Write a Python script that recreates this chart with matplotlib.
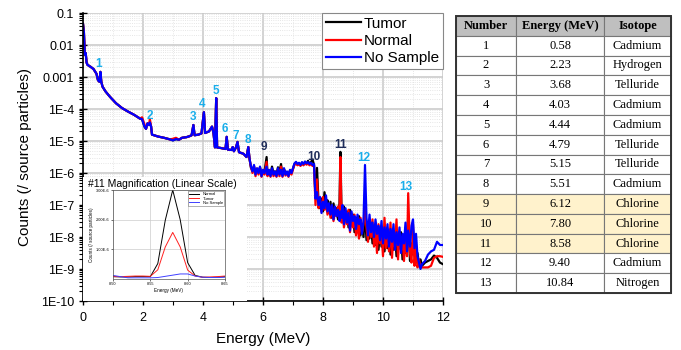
import numpy as np
import matplotlib.pyplot as plt
from matplotlib.ticker import MultipleLocator, LogLocator, FixedLocator, NullFormatter
from matplotlib.patches import Rectangle

plt.rcParams['font.family'] = ['Liberation Sans', 'DejaVu Sans']

# ---- spectrum data (log10 of counts / source particle) ----
# low energy part: the three spectra overlap almost exactly
energy_low = [0.00, 0.03, 0.06, 0.09, 0.12, 0.15, 0.25, 0.35, 0.45, 0.50,
              0.55, 0.58, 0.61, 0.65, 0.75, 0.90, 1.10, 1.30, 1.50, 1.70,
              1.90, 1.97, 2.05, 2.10, 2.15, 2.20, 2.23, 2.27, 2.30, 2.50,
              2.70, 2.90, 3.00, 3.10, 3.20, 3.30, 3.45, 3.55, 3.62, 3.68,
              3.72, 3.85, 3.95, 4.03, 4.07, 4.20, 4.30, 4.35, 4.40, 4.44,
              4.47, 4.60, 4.75, 4.79, 4.83, 4.95, 4.99, 5.03, 5.10, 5.15,
              5.20, 5.35, 5.45, 5.51, 5.55]
log_low = [-1.34, -1.60, -2.30, -2.25, -2.55, -2.62, -2.68, -2.75, -2.90, -3.10,
           -3.15, -2.84, -3.15, -3.30, -3.45, -3.62, -3.82, -3.97, -4.08, -4.18,
           -4.30, -4.32, -4.55, -4.62, -4.45, -4.50, -4.42, -4.55, -4.80, -4.86,
           -4.90, -4.95, -4.98, -4.94, -4.96, -4.90, -4.88, -4.85, -4.82, -4.50,
           -4.82, -4.80, -4.76, -4.10, -4.75, -4.70, -4.55, -4.75, -5.20, -3.66,
           -5.20, -5.22, -5.25, -4.87, -5.27, -5.28, -5.19, -5.32, -5.20, -5.03,
           -5.35, -5.40, -5.50, -5.19, -5.55]
# where the normal-tissue curve sits a little above the others
normal_low_diff = {1.97: -4.26, 2.05: -4.48, 2.23: -4.32, 3.00: -4.93, 3.10: -4.90}

energy_mid = [5.60, 5.65, 5.70, 5.75, 5.80, 5.85, 5.90, 5.95, 6.00, 6.05,
              6.12, 6.15, 6.20, 6.25, 6.30, 6.35, 6.40, 6.45, 6.50, 6.55,
              6.60, 6.65, 6.70, 6.75, 6.80, 6.85, 6.90, 6.95, 7.00, 7.05,
              7.10, 7.15, 7.20, 7.25, 7.30, 7.35, 7.40, 7.45, 7.50, 7.55,
              7.60, 7.65, 7.70]
tumor_mid = [-5.85, -5.90, -5.80, -6.00, -5.88, -5.95, -5.82, -6.05, -5.92, -5.95,
             -5.50, -6.00, -5.92, -6.05, -5.80, -6.00, -5.95, -6.05, -5.82, -6.00,
             -5.72, -6.05, -5.88, -6.00, -5.98, -6.05, -5.92, -6.00, -5.86, -5.72,
             -5.68, -5.74, -5.70, -5.76, -5.68, -5.74, -5.66, -5.72, -5.62, -5.72,
             -5.66, -5.58, -5.74]
normal_mid = [-5.82, -6.00, -5.78, -6.10, -5.86, -6.05, -5.84, -6.12, -5.94, -6.05,
              -5.65, -6.10, -5.94, -6.12, -5.88, -6.10, -5.98, -6.12, -5.88, -6.10,
              -5.80, -6.12, -5.90, -6.08, -6.00, -6.12, -5.94, -6.05, -5.88, -5.74,
              -5.70, -5.76, -5.72, -5.78, -5.70, -5.76, -5.68, -5.74, -5.70, -5.76,
              -5.72, -5.78, -5.76]
nosample_mid = [-5.80, -5.95, -5.75, -6.05, -5.85, -6.00, -5.80, -6.10, -5.90, -6.00,
                -5.80, -6.05, -5.90, -6.10, -5.85, -6.05, -5.95, -6.10, -5.85, -6.05,
                -5.90, -6.10, -5.85, -6.05, -5.95, -6.10, -5.90, -6.00, -5.85, -5.70,
                -5.65, -5.72, -5.68, -5.75, -5.66, -5.72, -5.64, -5.70, -5.66, -5.72,
                -5.68, -5.75, -5.72]

energy_tail = [7.75, 7.80, 7.85, 7.90, 7.95, 8.00, 8.05, 8.10, 8.15, 8.20,
               8.25, 8.30, 8.35, 8.40, 8.45, 8.50, 8.55, 8.58, 8.62, 8.65,
               8.70, 8.75, 8.80, 8.85, 8.90, 8.95, 9.00, 9.05, 9.10, 9.15,
               9.20, 9.25, 9.30, 9.35, 9.40, 9.45, 9.50, 9.55, 9.60, 9.65,
               9.70, 9.75, 9.80, 9.85, 9.90, 9.95, 10.00, 10.05, 10.10, 10.15,
               10.20, 10.25, 10.30, 10.35, 10.40, 10.45, 10.50, 10.55, 10.60, 10.65,
               10.70, 10.75, 10.80, 10.84, 10.90, 10.95, 11.00, 11.05, 11.10, 11.15,
               11.20, 11.25, 11.30, 11.40, 11.50, 11.60, 11.70, 11.80, 11.90, 12.00]
tumor_tail = [-6.70, -5.84, -6.90, -7.10, -6.80, -7.20, -6.60, -7.00, -6.85, -7.25,
              -6.90, -7.40, -6.95, -7.30, -7.10, -7.45, -6.95, -5.34, -7.30, -7.50,
              -7.05, -7.45, -7.20, -7.70, -7.15, -7.60, -7.30, -7.85, -7.40, -7.65,
              -7.35, -7.95, -7.60, -8.00, -7.20, -8.10, -7.60, -8.05, -7.55, -8.20,
              -7.70, -8.25, -7.80, -8.40, -7.70, -8.30, -7.85, -8.45, -7.95, -8.35,
              -7.80, -8.55, -8.05, -8.40, -7.90, -8.60, -8.00, -8.35, -7.85, -8.70,
              -7.95, -8.50, -8.05, -7.40, -8.75, -8.20, -8.55, -8.00, -8.80, -8.50,
              -8.85, -8.70, -8.90, -8.80, -8.75, -8.70, -8.58, -8.65, -8.80, -8.85]
normal_tail = [-7.00, -6.20, -7.10, -6.85, -7.20, -6.75, -7.15, -6.95, -7.30, -7.00,
               -7.40, -7.05, -7.50, -7.20, -7.35, -7.05, -7.45, -5.50, -7.55, -7.25,
               -7.70, -7.30, -7.60, -7.15, -7.85, -7.40, -7.70, -7.30, -7.95, -7.55,
               -8.05, -7.40, -7.85, -7.60, -7.00, -7.70, -8.15, -7.50, -8.00, -7.45,
               -8.30, -7.70, -8.50, -7.60, -8.20, -7.85, -8.60, -7.40, -8.35, -7.75,
               -8.45, -7.55, -8.65, -7.90, -8.30, -7.45, -8.70, -7.95, -8.40, -8.05,
               -8.75, -7.90, -8.60, -6.63, -8.50, -8.80, -7.60, -8.90, -8.30, -8.95,
               -8.70, -8.95, -8.95, -8.95, -8.95, -8.90, -8.65, -8.60, -8.60, -8.62]
nosample_tail = [-6.80, -6.60, -7.00, -6.75, -7.25, -6.90, -7.10, -6.70, -7.20, -6.95,
                 -7.30, -7.00, -7.45, -7.05, -7.35, -7.15, -7.50, -7.20, -7.40, -7.00,
                 -7.60, -7.10, -7.55, -7.25, -7.80, -7.20, -7.50, -7.35, -7.75, -7.30,
                 -7.60, -7.45, -7.90, -7.50, -5.75, -7.40, -7.95, -7.30, -7.85, -7.55,
                 -8.00, -7.45, -7.90, -7.65, -8.10, -7.50, -8.20, -7.70, -8.05, -7.60,
                 -8.30, -7.75, -8.15, -7.60, -8.40, -7.85, -8.25, -7.70, -8.50, -7.90,
                 -8.20, -7.55, -8.45, -7.80, -8.30, -7.65, -7.45, -8.35, -7.90, -8.60,
                 -8.80, -9.00, -8.85, -8.75, -8.55, -8.45, -8.40, -8.15, -8.25, -8.25]

# ---- peak table ----
peak_numbers = list(range(1, 14))
peak_energies = [0.58, 2.23, 3.68, 4.03, 4.44, 4.79, 5.15, 5.51, 6.12, 7.80, 8.58, 9.40, 10.84]
peak_isotopes = ['Cadmium', 'Hydrogen', 'Telluride', 'Cadmium', 'Cadmium', 'Telluride',
                 'Telluride', 'Cadmium', 'Chlorine', 'Chlorine', 'Chlorine', 'Cadmium', 'Nitrogen']
chlorine_rows = [9, 10, 11]

# ---- #11 magnification (linear) ----
inset_energy = [8.50, 8.51, 8.52, 8.53, 8.54, 8.55, 8.56, 8.57, 8.58, 8.59,
                8.60, 8.61, 8.62, 8.63, 8.64, 8.65]
inset_normal = [0.08, 0.07, 0.07, 0.08, 0.08, 0.08, 0.52, 1.98, 3.00, 2.00,
                0.55, 0.12, 0.06, 0.05, 0.06, 0.08]
inset_tumor = [0.08, 0.08, 0.09, 0.10, 0.10, 0.09, 0.31, 1.08, 1.57, 1.08,
               0.30, 0.10, 0.06, 0.07, 0.08, 0.10]
inset_nosample = [0.12, 0.08, 0.04, 0.04, 0.04, 0.04, 0.05, 0.09, 0.13, 0.17,
                  0.17, 0.10, 0.06, 0.05, 0.05, 0.06]


def build(low, mid, tail, diff=None):
    lo = list(low)
    if diff:
        for i, e in enumerate(energy_low):
            if e in diff:
                lo[i] = diff[e]
    e = np.array(energy_low + energy_mid + energy_tail)
    return e, np.power(10.0, np.array(lo + mid + tail))


fig = plt.figure(figsize=(6.81, 3.5), dpi=100)
W, H = 681, 350
ax = fig.add_axes([83 / W, 49 / H, 360 / W, 288 / H])

e, y = build(log_low, tumor_mid, tumor_tail)
ax.plot(e, y, color='black', lw=1.6, label='Tumor')
e, y = build(log_low, normal_mid, normal_tail, normal_low_diff)
ax.plot(e, y, color='#ff0000', lw=1.6, label='Normal')
e, y = build(log_low, nosample_mid, nosample_tail)
ax.plot(e, y, color='#0000ff', lw=1.6, label='No Sample')

ax.set_yscale('log')
ax.set_xlim(0, 12)
ax.set_ylim(1e-10, 0.1)
ax.xaxis.set_major_locator(MultipleLocator(2))
ax.xaxis.set_minor_locator(MultipleLocator(1))
ax.yaxis.set_major_locator(LogLocator(base=10, numticks=20))
ax.yaxis.set_minor_locator(LogLocator(base=10, subs=np.arange(2, 10), numticks=20))
ax.yaxis.set_minor_formatter(NullFormatter())
ylabels = {-1: '0.1', -2: '0.01', -3: '0.001'}
ax.yaxis.set_major_formatter(plt.FuncFormatter(
    lambda v, p: ylabels.get(int(round(np.log10(v))), '1E%d' % int(round(np.log10(v))))))
ax.tick_params(axis='both', which='major', labelsize=9, direction='inout', length=6, width=1)
ax.tick_params(axis='x', which='major', pad=5)
ax.tick_params(axis='both', which='minor', direction='out', length=3, width=0.8)
ax.grid(True, which='major', color='#c8c8c8', lw=1.1)
ax.grid(True, which='minor', color='#dedede', lw=0.6, ls=':')
ax.set_axisbelow(True)
for s in ['top', 'right']:
    ax.spines[s].set_visible(False)
ax.spines['left'].set_linewidth(1.2)
ax.spines['bottom'].set_linewidth(1.2)
ax.set_xlabel('Energy (MeV)', fontsize=11)
ax.set_ylabel('Counts (/ source particles)', fontsize=11)
ax.xaxis.set_label_coords(0.5, -0.108)
ax.yaxis.set_label_coords(-0.142, 0.5)

leg = ax.legend(loc='upper right', bbox_to_anchor=(1, 1), borderaxespad=0, fontsize=11,
                frameon=True, fancybox=False, edgecolor='#888888', framealpha=1,
                handlelength=2.3, handletextpad=0.2, labelspacing=0.2, borderpad=0.25)
leg.get_frame().set_linewidth(0.8)

# peak labels
light, dark = '#1aaeea', '#1f2d5a'
label_logy = [-2.59, -4.22, -4.25, -3.84, -3.44, -4.62, -4.84, -4.97, -5.19, -5.5, -5.13, -5.53, -6.44]
label_dx = [-0.05, 0, 0, -0.06, 0, -0.05, -0.05, 0, -0.08, -0.12, 0, -0.05, -0.08]
for n, en, ly, dx in zip(peak_numbers, peak_energies, label_logy, label_dx):
    ax.text(en + dx, 10 ** ly, str(n), color=dark if n in chlorine_rows else light,
            fontsize=8.5, fontweight='bold', ha='center', va='center', zorder=6)

# white panel for the inset
ax.add_patch(Rectangle((0, 0), 164 / 360, 124 / 288, transform=ax.transAxes,
                       facecolor='white', edgecolor='none', zorder=7))
fig.text(88 / W, 1 - 184 / H, '#11 Magnification (Linear Scale)', fontsize=7.5,
         ha='left', va='center', zorder=10)

axi = fig.add_axes([113 / W, 71 / H, 112 / W, 89 / H])
axi.plot(inset_energy, np.array(inset_normal) * 1e-6, color='black', lw=0.7, label='Normal')
axi.plot(inset_energy, np.array(inset_tumor) * 1e-6, color='#ff2020', lw=0.7, label='Tumor')
axi.plot(inset_energy, np.array(inset_nosample) * 1e-6, color='#4040ff', lw=0.7, label='No Sample')
axi.set_xlim(8.50, 8.65)
axi.set_ylim(0, 3.0e-6)
axi.xaxis.set_major_locator(FixedLocator([8.50, 8.55, 8.60, 8.65]))
axi.xaxis.set_major_formatter(plt.FuncFormatter(lambda v, p: '%.2f' % v))
axi.yaxis.set_major_locator(FixedLocator([1e-6, 2e-6, 3e-6]))
axi.yaxis.set_major_formatter(plt.FuncFormatter(lambda v, p: '%.2fE-6' % (v * 1e6)))
axi.tick_params(labelsize=2.8, length=1.5, width=0.4, pad=1)
axi.grid(True, color='#cccccc', lw=0.5)
for s in axi.spines.values():
    s.set_linewidth(0.5)
    s.set_color('#555555')
axi.set_xlabel('Energy (MeV)', fontsize=3.3, labelpad=1)
axi.set_ylabel('Counts (/ source particles)', fontsize=3.3, labelpad=1)
li = axi.legend(loc='upper right', fontsize=3, frameon=True, fancybox=False, edgecolor='#555555',
                handlelength=2.5, labelspacing=0.1, borderpad=0.2, borderaxespad=0.3)
li.get_frame().set_linewidth(0.4)

# ---- table ----
axt = fig.add_axes([456 / W, 57 / H, 215 / W, 277 / H])
axt.axis('off')
rows = [[str(n), '%.2f' % en, iso] for n, en, iso in zip(peak_numbers, peak_energies, peak_isotopes)]
tbl = axt.table(cellText=rows, colLabels=['Number', 'Energy (MeV)', 'Isotope'],
                cellLoc='center', bbox=[0, 0, 1, 1],
                colWidths=[60 / 215, 88 / 215, 67 / 215])
tbl.auto_set_font_size(False)
for (r, c), cell in tbl.get_celld().items():
    cell.set_edgecolor('#777777')
    cell.set_linewidth(0.8)
    cell.get_text().set_fontfamily('Liberation Serif')
    cell.get_text().set_fontsize(9)
    if r == 0:
        cell.set_facecolor('#bfbfbf')
        cell.get_text().set_fontweight('bold')
    elif peak_numbers[r - 1] in chlorine_rows:
        cell.set_facecolor('#fff2cc')
axt.add_patch(Rectangle((0, 0), 1, 1, transform=axt.transAxes, fill=False,
                        edgecolor='#333333', lw=1.4, zorder=5, clip_on=False))

fig.savefig('out.png', dpi=100)
